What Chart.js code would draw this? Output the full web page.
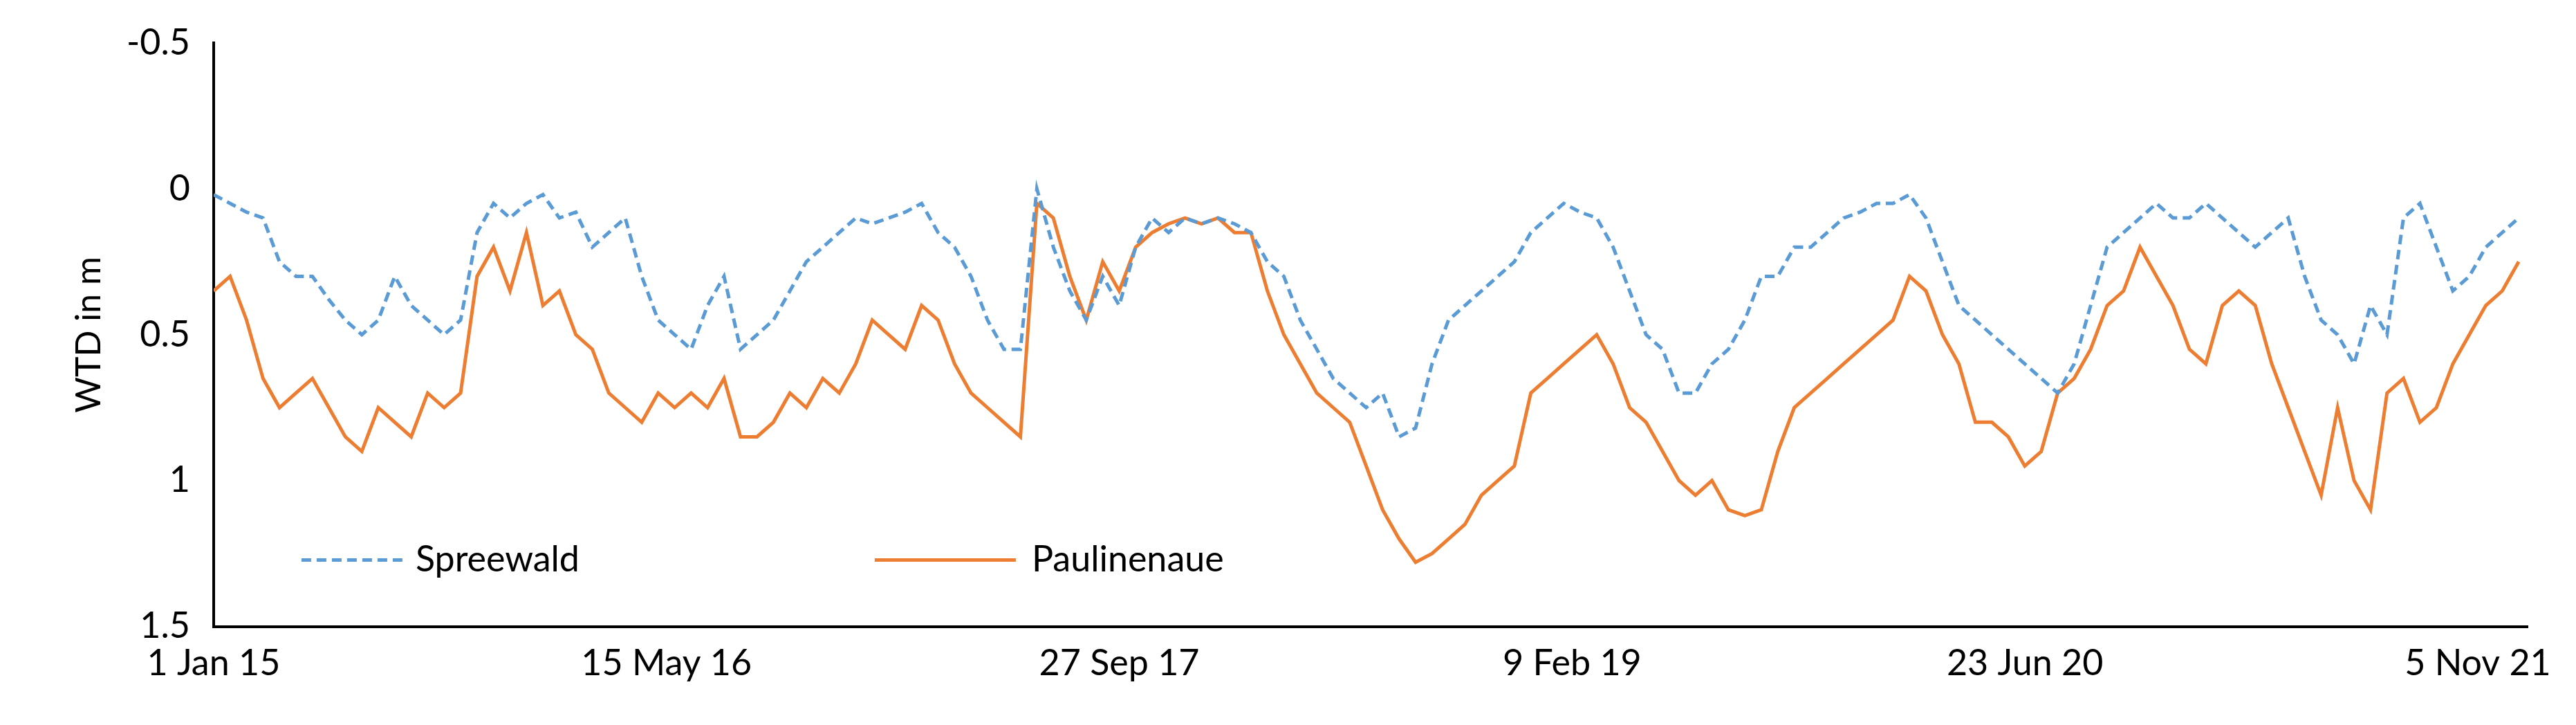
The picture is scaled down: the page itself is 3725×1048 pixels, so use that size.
<!DOCTYPE html>
<html><head><meta charset="utf-8">
<script src="https://cdn.jsdelivr.net/npm/chart.js@4/dist/chart.umd.min.js"></script>
<style>html,body{margin:0;padding:0;background:#fff}#w{width:3725px;height:1048px}</style>
</head><body><div id="w"><canvas id="c"></canvas></div>
<script>
const tickLabels = ["1 Jan 15","15 May 16","27 Sep 17","9 Feb 19","23 Jun 20","5 Nov 21"];
const tickDays = [0,500,1000,1500,2000,2500];
const sampleStepDays = 18.18; // regular sampling of the reading grid
const spreewald = [.02,.05,.08,.1,.25,.3,.3,.38,.45,.5,.45,.3,.4,.45,.5,.45,.15,.05,.1,.05,.02,.1,.08,.2,.15,.1,.3,.45,.5,.55,.4,.3,.55,.5,.45,.35,.25,.2,.15,.1,.12,.1,.08,.05,.15,.2,.3,.45,.55,.55,0,.2,.35,.45,.3,.4,.2,.1,.15,.1,.12,.1,.12,.15,.25,.3,.45,.55,.65,.7,.75,.7,.85,.82,.6,.45,.4,.35,.3,.25,.15,.1,.05,.08,.1,.2,.35,.5,.55,.7,.7,.6,.55,.45,.3,.3,.2,.2,.15,.1,.08,.05,.05,.02,.1,.25,.4,.45,.5,.55,.6,.65,.7,.6,.4,.2,.15,.1,.05,.1,.1,.05,.1,.15,.2,.15,.1,.3,.45,.5,.6,.4,.5,.1,.05,.2,.35,.3,.2,.15,.1];
const paulinenaue = [.35,.3,.45,.65,.75,.7,.65,.75,.85,.9,.75,.8,.85,.7,.75,.7,.3,.2,.35,.15,.4,.35,.5,.55,.7,.75,.8,.7,.75,.7,.75,.65,.85,.85,.8,.7,.75,.65,.7,.6,.45,.5,.55,.4,.45,.6,.7,.75,.8,.85,.05,.1,.3,.45,.25,.35,.2,.15,.12,.1,.12,.1,.15,.15,.35,.5,.6,.7,.75,.8,.95,1.1,1.2,1.28,1.25,1.2,1.15,1.05,1.0,.95,.7,.65,.6,.55,.5,.6,.75,.8,.9,1.0,1.05,1.0,1.1,1.12,1.1,.9,.75,.7,.65,.6,.55,.5,.45,.3,.35,.5,.6,.8,.8,.85,.95,.9,.7,.65,.55,.4,.35,.2,.3,.4,.55,.6,.4,.35,.4,.6,.75,.9,1.05,.75,1.0,1.1,.7,.65,.8,.75,.6,.5,.4,.35,.25];
const pts = a => a.map((v,i)=>({x:i*sampleStepDays,y:v}));
const F = "Lato, 'Open Sans', sans-serif";
const legendPlugin = {id:'lg',afterDraw(ch){const c=ch.ctx,a=ch.chartArea;c.save();c.font="52px "+F;c.fillStyle="#000";c.textBaseline="middle";
 const y=a.top+(a.bottom-a.top)*0.886;
 c.lineWidth=5;c.strokeStyle="#5B9BD5";c.setLineDash([14,8]);c.beginPath();c.moveTo(a.left+127,y);c.lineTo(a.left+275,y);c.stroke();
 c.fillText("Spreewald",a.left+292,y);
 c.setLineDash([]);c.strokeStyle="#ED7D31";c.beginPath();c.moveTo(a.left+956,y);c.lineTo(a.left+1160,y);c.stroke();
 c.fillText("Paulinenaue",a.left+1183,y);c.restore();}};
new Chart(document.getElementById('c'),{type:'line',
 data:{datasets:[
  {label:'Spreewald',data:pts(spreewald),borderColor:'#5B9BD5',borderWidth:5,borderDash:[14,8],pointRadius:0,tension:0},
  {label:'Paulinenaue',data:pts(paulinenaue),borderColor:'#ED7D31',borderWidth:5,pointRadius:0,tension:0}]},
 options:{responsive:true,maintainAspectRatio:false,animation:false,
  layout:{padding:{left:95,right:70,top:62,bottom:50}},
  plugins:{legend:{display:false},tooltip:{enabled:false}},
  scales:{
   x:{type:'linear',min:0,max:2555,grid:{display:false,drawTicks:true,tickLength:14},border:{color:'#000',width:4},
    afterBuildTicks:s=>{s.ticks=tickDays.map(v=>({value:v}));},
    ticks:{color:'#000',font:{size:52,family:F},maxRotation:0,padding:8,callback:v=>tickLabels[tickDays.indexOf(v)]}},
   y:{reverse:true,min:-0.5,max:1.5,grid:{display:false,tickLength:14},border:{color:'#000',width:4},
    afterBuildTicks:s=>{s.ticks=[-0.5,0,0.5,1,1.5].map(v=>({value:v}));},
    ticks:{color:'#000',font:{size:52,family:F},padding:20,callback:v=>String(v)},
    title:{display:true,text:'WTD in m',color:'#000',font:{size:50,family:F}}}}},
 plugins:[legendPlugin]});
</script></body></html>
